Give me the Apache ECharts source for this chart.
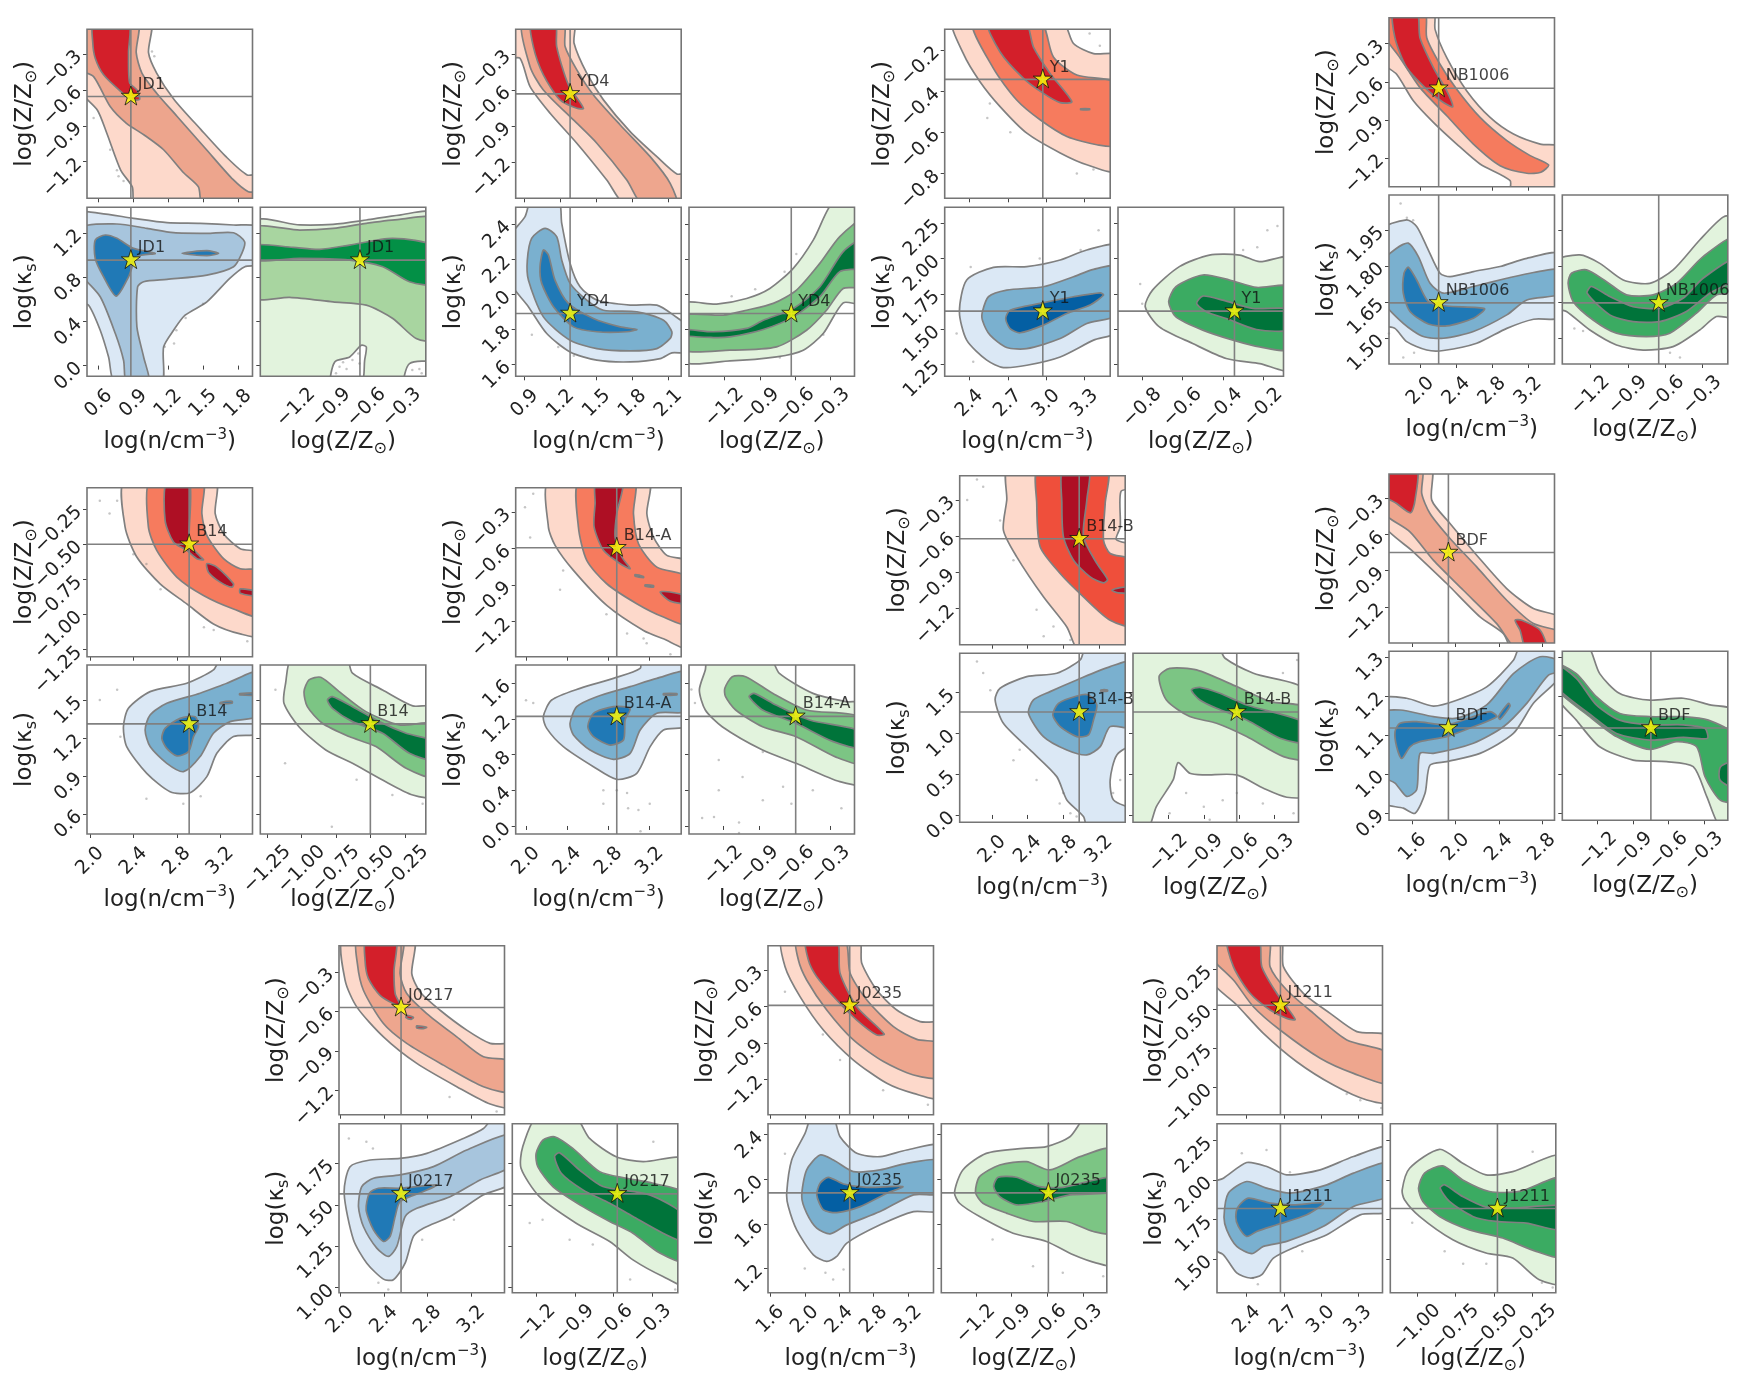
<!DOCTYPE html>
<html>
<head>
<meta charset="utf-8">
<title>corner plots</title>
<script src="https://cdn.jsdelivr.net/npm/echarts@6/dist/echarts.min.js"></script>
<style>
  html, body { margin: 0; background: #fff; }
  #main { width: 1747px; height: 1381px; }
</style>
</head>
<body>
<div id="main"></div>
<script>
// ---- JD1 ----
const JD1_N_LIM = [0.50, 1.926], JD1_Z_LIM = [-1.505, -0.095], JD1_K_LIM = [-0.097, 1.433];
const JD1_N_TICKS = [0.6, 0.9, 1.2, 1.5, 1.8], JD1_Z_TICKS = [-1.2, -0.9, -0.6, -0.3], JD1_K_TICKS = [0, 0.4, 0.8, 1.2];
const JD1_STAR = [0.878, -0.656, 0.955];
const JD1_NZ = [
  [[.50,-.09],[1.045,-.09],[1.03,-.29],[1.10,-.46],[1.25,-.68],[1.48,-.93],[1.70,-1.16],[1.88,-1.31],[1.93,-1.31],[1.93,-1.51],[.92,-1.51],[.89,-1.41],[.79,-1.27],[.67,-.96],[.59,-.77],[.50,-.59]],
  [[.50,-.09],[.936,-.09],[.924,-.29],[.973,-.46],[1.10,-.628],[1.275,-.82],[1.53,-1.10],[1.76,-1.35],[1.89,-1.45],[1.93,-1.46],[1.93,-1.51],[1.50,-1.51],[1.46,-1.41],[1.33,-1.29],[1.16,-1.10],[.99,-.975],[.84,-.88],[.70,-.74],[.557,-.49],[.50,-.42]],
  [[.557,-.09],[.858,-.09],[.858,-.29],[.867,-.54],[.93,-.60],[.953,-.68],[.887,-.68],[.787,-.61],[.643,-.475],[.571,-.336],[.55,-.21]]
];
const JD1_NK = [
  [[.50,1.378],[.614,1.378],[.901,1.333],[1.189,1.294],[1.476,1.288],[1.763,1.273],[1.926,1.251],[1.926,.919],[1.86,.895],[1.73,.789],[1.533,.577],[1.345,.456],[1.246,.32],[1.16,.169],[1.14,-.097],[.744,-.097],[.686,.078],[.614,.32],[.514,.547],[.50,.577]],
  [[.50,1.242],[.758,1.282],[1.016,1.242],[1.246,1.203],[1.533,1.197],[1.763,1.203],[1.858,1.121],[1.834,1.016],[1.763,.895],[1.533,.819],[1.189,.78],[.988,.759],[.936,.713],[.93,.35],[.988,.078],[1.036,-.097],[.844,-.097],[.815,.048],[.744,.29],[.614,.623],[.50,.864]],
  [[.571,1.136],[.657,1.182],[.758,1.152],[.901,1.061],[1.088,1.016],[.93,.985],[.858,.804],[.752,.629],[.643,.804],[.571,.97]],
  [[1.318,1.016],[1.533,1.04],[1.634,1.016],[1.533,.995]]
];
const JD1_ZK = [
  [[-1.506,1.297],[-1.169,1.273],[-.886,1.279],[-.602,1.318],[-.319,1.363],[-.095,1.372],[-.095,-.097],[-1.506,-.097]],
  [[-1.506,1.242],[-1.169,1.227],[-.886,1.242],[-.602,1.288],[-.319,1.324],[-.095,1.324],[-.095,.236],[-.177,.245],[-.376,.426],[-.602,.547],[-.886,.577],[-1.254,.617],[-1.506,.617]],
  [[-1.506,1.091],[-1.225,1.07],[-.999,1.052],[-.744,1.091],[-.376,1.152],[-.095,1.076],[-.095,.744],[-.234,.759],[-.461,.895],[-.744,.955],[-1.169,.97],[-1.506,.955]]
];
const JD1_ZK_HOLES = [
  [[-.90,-.097],[-.871,.033],[-.744,.078],[-.645,.184],[-.602,.169],[-.616,.048],[-.645,-.097]],
  [[-.276,-.097],[-.234,.018],[-.095,.024],[-.095,-.097]]
];
const JD1_NZ_DOTS = [[.557,-.836],[.70,-1.1],[.758,-1.27],[.772,-1.32],[.815,-1.36],[1.06,-.28],[1.08,-.32]];
const JD1_NK_DOTS = [[1.17,.17],[1.25,.2],[1.27,.32],[1.35,.43],[1.5,.56]];
const JD1_ZK_DOTS = [[-.83,-.01],[-.77,-.03],[-.72,.05],[-.67,.11],[-.86,-.07],[-.21,-.04],[-.15,-.03],[-.13,-.07],[-.8,.03],[-.66,.02]];

// ---- YD4 ----
const YD4_N_LIM = [0.825, 2.206], YD4_Z_LIM = [-1.503, -0.095], YD4_K_LIM = [1.533, 2.497];
const YD4_N_TICKS = [0.9, 1.2, 1.5, 1.8, 2.1], YD4_Z_TICKS = [-1.2, -0.9, -0.6, -0.3], YD4_K_TICKS = [1.6, 1.8, 2.0, 2.2, 2.4];
const YD4_STAR = [1.279, -0.633, 1.891];
const YD4_NZ = [
  [[.825,-.094],[1.307,-.094],[1.312,-.211],[1.418,-.461],[1.557,-.683],[1.78,-.947],[2.003,-1.156],[2.17,-1.3],[2.206,-1.3],[2.206,-1.503],[1.752,-1.503],[1.585,-1.35],[1.335,-1.044],[1.112,-.794],[.945,-.572],[.861,-.336],[.825,-.331]],
  [[.88,-.094],[1.223,-.094],[1.237,-.239],[1.335,-.433],[1.474,-.642],[1.697,-.892],[1.947,-1.156],[2.114,-1.378],[2.17,-1.503],[1.892,-1.503],[1.752,-1.35],[1.502,-1.044],[1.307,-.85],[1.056,-.6],[.945,-.406]],
  [[.953,-.094],[1.153,-.094],[1.167,-.239],[1.265,-.558],[1.39,-.753],[1.335,-.753],[1.195,-.683],[1.056,-.475],[.972,-.239]]
];
const YD4_NK = [
  [[.825,2.31],[.903,2.444],[.958,2.497],[1.181,2.497],[1.209,2.406],[1.279,2.177],[1.362,2.044],[1.502,1.968],[1.78,1.939],[2.003,1.939],[2.142,1.882],[2.206,1.806],[2.206,1.672],[2.128,1.667],[2.031,1.634],[1.78,1.615],[1.502,1.625],[1.279,1.672],[1.084,1.777],[.931,1.93],[.825,2.091]],
  [[.922,2.196],[.958,2.32],[1.07,2.377],[1.167,2.33],[1.209,2.196],[1.279,2.063],[1.418,1.968],[1.557,1.91],[1.836,1.901],[2.059,1.853],[2.128,1.787],[2.114,1.749],[2.003,1.691],[1.78,1.678],[1.502,1.691],[1.279,1.739],[1.056,1.872],[.931,2.082]],
  [[1.028,2.158],[1.056,2.253],[1.098,2.225],[1.153,2.082],[1.265,1.949],[1.474,1.863],[1.697,1.815],[1.836,1.80],[1.752,1.787],[1.502,1.787],[1.307,1.815],[1.14,1.93],[1.042,2.063]]
];
const YD4_ZK = [
  [[-1.5,1.945],[-1.268,1.945],[-1.013,1.977],[-.815,2.034],[-.616,2.149],[-.446,2.31],[-.262,2.497],[-.098,2.497],[-.098,1.952],[-.191,1.952],[-.361,1.777],[-.531,1.682],[-.758,1.644],[-1.155,1.621],[-1.5,1.621]],
  [[-1.5,1.876],[-1.211,1.882],[-1.013,1.91],[-.786,1.949],[-.588,2.025],[-.39,2.177],[-.22,2.33],[-.098,2.421],[-.098,2.048],[-.191,2.034],[-.333,1.91],[-.503,1.796],[-.758,1.701],[-1.155,1.682],[-1.5,1.686]],
  [[-1.5,1.80],[-1.296,1.787],[-1.013,1.806],[-.871,1.853],[-.616,1.92],[-.39,2.044],[-.191,2.244],[-.098,2.314],[-.098,2.158],[-.22,2.13],[-.39,1.987],[-.616,1.872],[-.871,1.80],[-1.155,1.758],[-1.296,1.754],[-1.5,1.768]]
];
const YD4_NK_DOTS = [[.96,1.77],[1.18,1.7],[1.31,1.65]];
const YD4_ZK_DOTS = [[-.59,2.23],[-.69,2.13],[-.94,2.03],[-1.14,1.99],[-.73,1.64],[-.36,1.77]];

// ---- Y1 ----
const Y1_N_LIM = [2.207, 3.501], Y1_Z_LIM = [-0.92, -0.10], Y1_K_LIM = [1.167, 2.363];
const Y1_N_TICKS = [2.4, 2.7, 3.0, 3.3], Y1_Z_TICKS = [-0.8, -0.6, -0.4, -0.2], Y1_K_TICKS = [1.25, 1.5, 1.75, 2.0, 2.25];
const Y1_STAR = [2.974, -0.343, 1.628];
const Y1_NZ = [
  [[2.275,-.102],[3.123,-.102],[3.214,-.169],[3.371,-.218],[3.501,-.229],[3.501,-.785],[3.318,-.757],[3.11,-.70],[2.849,-.604],[2.64,-.475],[2.483,-.354],[2.353,-.218]],
  [[2.426,-.102],[2.953,-.102],[3.057,-.234],[3.24,-.322],[3.501,-.366],[3.501,-.66],[3.397,-.66],[3.162,-.62],[2.953,-.539],[2.77,-.443],[2.588,-.29]],
  [[2.541,-.102],[2.836,-.102],[2.901,-.186],[3.031,-.314],[3.201,-.451],[3.11,-.456],[2.979,-.411],[2.823,-.338],[2.64,-.21]],
  [[3.27,-.486],[3.34,-.486],[3.34,-.49],[3.27,-.49]]
];
const Y1_NK = [
  [[2.322,1.624],[2.379,1.848],[2.588,1.938],[2.849,1.943],[3.11,1.99],[3.318,2.061],[3.501,2.089],[3.501,1.489],[3.371,1.423],[3.11,1.304],[2.849,1.245],[2.666,1.229],[2.536,1.281],[2.379,1.423]],
  [[2.502,1.624],[2.549,1.73],[2.692,1.777],[2.979,1.801],[3.214,1.872],[3.371,1.924],[3.501,1.943],[3.501,1.607],[3.318,1.541],[3.11,1.434],[2.849,1.363],[2.692,1.371],[2.562,1.458],[2.502,1.564]],
  [[2.684,1.576],[2.718,1.635],[2.953,1.683],[3.214,1.73],[3.423,1.758],[3.449,1.742],[3.344,1.671],[3.162,1.612],[2.979,1.529],[2.797,1.475],[2.718,1.505]]
];
const Y1_ZK = [
  [[-.785,1.659],[-.749,1.777],[-.616,1.943],[-.467,2.025],[-.317,2.025],[-.218,1.978],[-.10,2.002],[-.10,1.215],[-.218,1.257],[-.384,1.293],[-.55,1.399],[-.715,1.517]],
  [[-.669,1.694],[-.633,1.801],[-.50,1.884],[-.367,1.848],[-.234,1.796],[-.10,1.796],[-.10,1.363],[-.218,1.375],[-.35,1.423],[-.50,1.494],[-.633,1.588]],
  [[-.53,1.683],[-.50,1.735],[-.40,1.706],[-.251,1.647],[-.10,1.64],[-.10,1.498],[-.234,1.498],[-.384,1.576],[-.483,1.624]]
];
const Y1_NZ_DOTS = [[2.56,-.46],[2.54,-.53],[2.72,-.6],[3.37,-.78],[3.24,-.8],[3.34,-.12],[3.42,-.18]];
const Y1_NK_DOTS = [[2.41,1.94],[2.95,2.0],[3.41,2.2],[3.27,2.06],[2.3,1.47],[2.43,1.27]];
const Y1_ZK_DOTS = [[-.81,1.82],[-.8,1.68],[-.3,2.06],[-.18,2.2],[-.13,2.23],[-.23,2.08]];

// ---- NB1006 ----
const NB1006_N_LIM = [1.651, 3.494], NB1006_Z_LIM = [-1.427, -0.095], NB1006_K_LIM = [1.393, 2.095];
const NB1006_N_TICKS = [2.0, 2.4, 2.8, 3.2], NB1006_Z_TICKS = [-1.2, -0.9, -0.6, -0.3], NB1006_K_TICKS = [1.5, 1.65, 1.8, 1.95];
const NB1006_STAR = [2.204, -0.651, 1.647];
const NB1006_NZ = [
  [[1.651,-.104],[2.145,-.104],[2.164,-.187],[2.294,-.41],[2.517,-.672],[2.777,-.881],[3.037,-1.012],[3.335,-1.091],[3.494,-1.117],[3.494,-1.427],[3.007,-1.427],[3.0,-1.379],[2.665,-1.248],[2.405,-1.091],[2.145,-.92],[1.922,-.75],[1.736,-.541],[1.651,-.436]],
  [[1.651,-.104],[2.045,-.104],[2.071,-.253],[2.219,-.462],[2.405,-.659],[2.665,-.881],[2.963,-1.064],[3.223,-1.182],[3.428,-1.255],[3.342,-1.313],[3.186,-1.321],[2.888,-1.261],[2.591,-1.091],[2.294,-.868],[1.996,-.646],[1.773,-.41],[1.651,-.20]],
  [[1.699,-.104],[1.959,-.104],[1.996,-.253],[2.145,-.488],[2.294,-.672],[2.361,-.797],[2.257,-.763],[2.089,-.672],[1.848,-.488],[1.717,-.253]]
];
const NB1006_NK = [
  [[1.651,1.947],[1.848,1.992],[1.959,1.964],[2.071,1.881],[2.219,1.77],[2.331,1.756],[2.591,1.777],[2.888,1.798],[3.186,1.832],[3.494,1.85],[3.494,1.59],[3.26,1.579],[2.963,1.541],[2.628,1.479],[2.257,1.449],[2.071,1.451],[1.848,1.486],[1.717,1.541],[1.651,1.559]],
  [[1.651,1.811],[1.736,1.874],[1.866,1.895],[1.978,1.839],[2.108,1.728],[2.257,1.687],[2.591,1.715],[2.963,1.749],[3.26,1.773],[3.494,1.784],[3.494,1.687],[3.186,1.659],[2.963,1.597],[2.591,1.528],[2.257,1.50],[2.033,1.507],[1.81,1.562],[1.651,1.666]],
  [[1.81,1.687],[1.818,1.77],[1.866,1.795],[1.959,1.742],[2.089,1.652],[2.294,1.634],[2.714,1.623],[2.591,1.583],[2.294,1.551],[2.089,1.559],[1.885,1.611]]
];
const NB1006_ZK = [
  [[-1.428,1.818],[-1.286,1.846],[-1.125,1.811],[-.937,1.742],[-.723,1.728],[-.535,1.784],[-.321,1.908],[-.133,2.003],[-.095,2.003],[-.095,1.59],[-.187,1.59],[-.321,1.534],[-.535,1.465],[-.776,1.451],[-.991,1.472],[-1.205,1.534],[-1.393,1.611],[-1.428,1.631]],
  [[-1.38,1.728],[-1.353,1.77],[-1.232,1.784],[-1.071,1.735],[-.91,1.68],[-.696,1.68],[-.508,1.728],[-.294,1.839],[-.095,1.922],[-.095,1.694],[-.187,1.68],[-.347,1.604],[-.562,1.521],[-.75,1.507],[-.991,1.521],[-1.179,1.576],[-1.339,1.652]],
  [[-1.227,1.687],[-1.192,1.715],[-1.045,1.673],[-.857,1.631],[-.642,1.625],[-.455,1.666],[-.294,1.749],[-.095,1.832],[-.095,1.749],[-.24,1.687],[-.428,1.611],[-.642,1.569],[-.857,1.569],[-1.045,1.597]]
];
const NB1006_NK_DOTS = [[1.78,2.06],[1.85,2.0],[1.92,1.99],[1.93,1.44],[1.81,1.42],[1.65,1.52]];
const NB1006_ZK_DOTS = [[-1.33,1.54],[-1.26,1.53],[-.56,1.44],[-.48,1.42],[-.09,2.09]];

// ---- B14 ----
const B14_N_LIM = [1.972, 3.498], B14_Z_LIM = [-1.30, -0.097], B14_K_LIM = [0.442, 1.776];
const B14_N_TICKS = [2.0, 2.4, 2.8, 3.2], B14_Z_TICKS = [-1.25, -1.0, -0.75, -0.5, -0.25], B14_K_TICKS = [0.6, 0.9, 1.2, 1.5];
const B14_STAR = [2.914, -0.50, 1.311];
const B14_NZ = [
  [[2.323,-.098],[3.154,-.098],[3.154,-.281],[3.231,-.424],[3.385,-.531],[3.498,-.567],[3.498,-1.15],[3.385,-1.138],[3.138,-1.067],[2.892,-.924],[2.646,-.781],[2.431,-.59],[2.323,-.376]],
  [[2.554,-.098],[3.037,-.098],[3.031,-.281],[3.077,-.436],[3.231,-.602],[3.385,-.674],[3.498,-.69],[3.498,-1.014],[3.323,-.96],[3.046,-.864],[2.80,-.733],[2.615,-.543],[2.538,-.376]],
  [[2.708,-.098],[2.914,-.098],[2.914,-.448],[2.938,-.519],[3.015,-.586],[3.046,-.61],[2.985,-.602],[2.892,-.543],[2.769,-.483],[2.692,-.329]],
  [[3.077,-.638],[3.169,-.662],[3.323,-.781],[3.308,-.805],[3.20,-.769],[3.092,-.698]],
  [[3.385,-.817],[3.498,-.84],[3.498,-.871],[3.385,-.848]]
];
const B14_NK = [
  [[2.308,1.289],[2.354,1.434],[2.554,1.566],[2.892,1.632],[3.138,1.737],[3.215,1.776],[3.498,1.776],[3.498,1.245],[3.323,1.211],[3.169,1.079],[3.077,.895],[2.923,.768],[2.738,.776],[2.523,.921],[2.338,1.132]],
  [[2.508,1.263],[2.554,1.382],[2.708,1.474],[3.015,1.553],[3.262,1.632],[3.498,1.724],[3.498,1.382],[3.292,1.329],[3.138,1.237],[3.015,1.053],[2.862,.934],[2.708,1.0],[2.554,1.132]],
  [[2.662,1.197],[2.692,1.276],[2.831,1.355],[2.969,1.368],[3.0,1.289],[2.954,1.211],[2.908,1.092],[2.80,1.058],[2.708,1.118]],
  [[3.20,1.48],[3.31,1.49],[3.31,1.475],[3.20,1.47]],
  [[3.38,1.55],[3.498,1.555],[3.498,1.54],[3.38,1.54]]
];
const B14_ZK = [
  [[-1.068,1.776],[-.678,1.776],[-.63,1.711],[-.411,1.579],[-.192,1.453],[-.097,1.442],[-.097,.742],[-.192,.75],[-.411,.868],[-.63,1.0],[-.824,1.105],[-1.019,1.289],[-1.128,1.474],[-1.116,1.632]],
  [[-.982,1.566],[-.946,1.658],[-.861,1.679],[-.727,1.566],[-.532,1.408],[-.289,1.303],[-.097,1.303],[-.097,.895],[-.24,.961],[-.459,1.132],[-.654,1.211],[-.849,1.316],[-.958,1.447]],
  [[-.812,1.50],[-.776,1.526],[-.63,1.447],[-.435,1.329],[-.24,1.237],[-.097,1.171],[-.097,1.026],[-.216,1.079],[-.411,1.237],[-.63,1.329],[-.776,1.434]]
];
const B14_NZ_DOTS = [[2.09,-.19],[2.25,-.19],[2.18,-.28],[2.4,-.57],[2.52,-.64],[2.65,-.82],[3.05,-1.09],[3.45,-1.19],[3.14,-1.11]];
const B14_NK_DOTS = [[2.25,1.58],[2.09,1.5],[2.86,.68],[2.52,.72],[3.02,.74],[2.28,1.21]];
const B14_ZK_DOTS = [[-1.19,1.58],[-1.12,1.0],[-.6,.87],[-.34,.75],[-.12,.68],[-.78,.5]];

// ---- B14-A ----
const B14A_N_LIM = [1.90, 3.505], B14A_Z_LIM = [-1.49, -0.10], B14A_K_LIM = [-0.09, 1.806];
const B14A_N_TICKS = [2.0, 2.4, 2.8, 3.2], B14A_Z_TICKS = [-1.2, -0.9, -0.6, -0.3], B14A_K_TICKS = [0, 0.4, 0.8, 1.2, 1.6];
const B14A_STAR = [2.88, -0.594, 1.23];
const B14A_NZ = [
  [[2.227,-.102],[3.188,-.102],[3.172,-.314],[3.236,-.506],[3.366,-.657],[3.505,-.712],[3.505,-1.417],[3.333,-1.343],[3.139,-1.274],[2.783,-1.068],[2.46,-.78],[2.282,-.574],[2.217,-.423]],
  [[2.515,-.102],[3.049,-.102],[3.042,-.314],[3.091,-.561],[3.269,-.753],[3.505,-.841],[3.505,-1.225],[3.333,-1.164],[3.074,-1.054],[2.783,-.89],[2.589,-.698],[2.508,-.423]],
  [[2.68,-.102],[2.939,-.102],[2.88,-.314],[2.864,-.506],[2.929,-.67],[3.01,-.766],[2.913,-.725],[2.751,-.615],[2.66,-.423],[2.67,-.231]],
  [[3.301,-.958],[3.398,-.958],[3.505,-.999],[3.505,-1.054],[3.398,-1.033]],
  [[3.058,-.815],[3.139,-.83],[3.139,-.84],[3.058,-.827]],
  [[3.155,-.90],[3.236,-.905],[3.236,-.917],[3.155,-.91]]
];
const B14A_NK = [
  [[2.168,1.226],[2.249,1.413],[2.524,1.544],[2.848,1.656],[3.107,1.768],[3.123,1.806],[3.505,1.806],[3.505,1.133],[3.333,1.077],[3.204,.89],[3.074,.591],[2.88,.523],[2.654,.665],[2.362,.89],[2.201,1.095]],
  [[2.427,1.151],[2.492,1.338],[2.686,1.45],[3.01,1.563],[3.269,1.656],[3.505,1.731],[3.505,1.293],[3.269,1.264],[3.107,1.077],[3.01,.815],[2.848,.748],[2.621,.852],[2.46,1.021]],
  [[2.599,1.114],[2.654,1.264],[2.848,1.338],[3.01,1.32],[2.961,1.189],[2.945,.964],[2.816,.908],[2.654,1.002]],
  [[3.333,1.485],[3.463,1.485],[3.463,1.47],[3.333,1.47]]
];
const B14A_ZK = [
  [[-1.33,1.806],[-.816,1.806],[-.731,1.712],[-.449,1.488],[-.166,1.394],[-.098,1.376],[-.098,.479],[-.223,.497],[-.59,.703],[-.872,.852],[-1.211,1.114],[-1.353,1.301],[-1.403,1.525],[-1.353,1.75]],
  [[-1.189,1.544],[-1.127,1.675],[-1.014,1.675],[-.788,1.488],[-.505,1.301],[-.098,1.207],[-.098,.703],[-.251,.77],[-.59,1.002],[-.872,1.114],[-1.098,1.301],[-1.183,1.45]],
  [[-.985,1.45],[-.943,1.488],[-.759,1.357],[-.477,1.189],[-.098,1.058],[-.098,.871],[-.279,.946],[-.59,1.151],[-.872,1.301]]
];
const B14A_NZ_DOTS = [[2.07,-.15],[1.99,-.26],[2.04,-.51],[2.36,-.78],[2.33,-.94],[2.78,-1.14],[2.98,-1.3],[3.17,-1.38],[3.4,-1.47],[3.14,-1.34]];
const B14A_NK_DOTS = [[2.99,.2],[3.09,.18],[2.75,.25],[3.11,-.06],[2.0,1.41],[2.07,1.38],[2.98,.37],[2.88,.4],[2.75,.4],[3.2,.25]];
const B14A_ZK_DOTS = [[-1.07,.04],[-1.38,.09],[-1.28,.10],[-1.24,.40],[-1.04,.55],[-.87,.83],[-.63,.25],[-.21,.2],[-.45,.4],[-.87,.29],[-1.44,1.38],[-1.47,1.53],[-1.07,-.08],[-.7,.44],[-1.24,.74]];

// ---- B14-B ----
const B14B_N_LIM = [1.636, 3.496], B14B_Z_LIM = [-1.50, -0.098], B14B_K_LIM = [-0.09, 1.982];
const B14B_N_TICKS = [2.0, 2.4, 2.8, 3.2], B14B_Z_TICKS = [-1.2, -0.9, -0.6, -0.3], B14B_K_TICKS = [0, 0.5, 1.0, 1.5];
const B14B_STAR = [2.979, -0.621, 1.263];
const B14B_NZ = [
  [[2.184,-.098],[3.496,-.098],[3.496,-1.50],[2.99,-1.50],[2.84,-1.353],[2.577,-1.103],[2.277,-.771],[2.127,-.549],[2.165,-.30]],
  [[2.521,-.098],[3.29,-.098],[3.271,-.328],[3.252,-.632],[3.327,-.743],[3.496,-.804],[3.496,-1.339],[3.327,-1.297],[3.027,-1.103],[2.765,-.909],[2.54,-.688],[2.502,-.328]],
  [[2.795,-.098],[3.087,-.098],[3.065,-.30],[3.027,-.605],[3.177,-.826],[3.297,-.959],[3.252,-.987],[3.102,-.937],[2.915,-.799],[2.802,-.605],[2.784,-.328]],
  [[3.346,-1.048],[3.44,-1.026],[3.496,-1.026],[3.496,-1.067],[3.421,-1.07]]
];
const B14B_NZ_HOLES = [[[3.496,-.222],[3.447,-.231],[3.44,-.522],[3.395,-.627],[3.496,-.646]]];
const B14B_NK = [
  [[2.034,1.41],[2.09,1.553],[2.39,1.696],[2.727,1.737],[2.99,1.90],[3.065,1.982],[3.496,1.982],[3.496,-.09],[3.084,-.09],[3.027,-.02],[2.84,.184],[2.727,.47],[2.427,.797],[2.127,1.124]],
  [[2.409,1.247],[2.465,1.41],[2.652,1.512],[2.952,1.655],[3.327,1.819],[3.496,1.872],[3.496,1.083],[3.327,1.083],[3.215,.838],[3.065,.736],[2.84,.797],[2.577,.961]],
  [[2.682,1.226],[2.746,1.369],[2.952,1.459],[3.084,1.471],[3.177,1.349],[3.14,1.165],[3.084,.981],[2.952,.961],[2.765,1.083]],
  [[3.222,1.532],[3.297,1.532],[3.297,1.518],[3.222,1.518]]
];
const B14B_NK_HOLES = [[[3.496,.838],[3.402,.736],[3.327,.429],[3.365,.184],[3.496,.11]]];
const B14B_ZK = [
  [[-1.5,1.982],[-.792,1.982],[-.72,1.921],[-.48,1.737],[-.098,1.512],[-.098,.245],[-.197,.217],[-.395,.327],[-.622,.491],[-.905,.491],[-1.019,.511],[-1.118,.642],[-1.16,.429],[-1.302,.102],[-1.381,-.09],[-1.5,-.09]],
  [[-1.279,1.696],[-1.189,1.798],[-.962,1.778],[-.622,1.574],[-.339,1.39],[-.098,1.308],[-.098,.695],[-.225,.715],[-.537,.961],[-.792,1.124],[-1.019,1.206],[-1.217,1.41]],
  [[-1.005,1.533],[-.934,1.565],[-.764,1.492],[-.537,1.349],[-.098,1.124],[-.098,.887],[-.254,.94],[-.537,1.165],[-.792,1.308],[-.934,1.41]]
];
const B14B_NZ_DOTS = [[1.83,-.13],[1.9,-.19],[1.72,-.3],[2.09,-.47],[2.24,-.8],[2.5,-1.21],[2.69,-1.35],[2.88,-1.46],[2.58,-1.43]];
const B14B_NK_DOTS = [[1.9,1.74],[1.83,1.88],[1.98,1.53],[2.31,.8],[2.5,.43],[2.8,.27],[2.88,.02],[2.76,.14],[2.24,.67],[2.95,-.02],[3.36,.27],[3.44,.43]];
const B14B_ZK_DOTS = [[-1.19,.02],[-1.05,.27],[-.85,-.06],[-.62,.27],[-.4,.14],[-.14,.02],[-.23,1.74],[-.11,1.9],[-.9,.1],[-.74,.18]];

// ---- BDF ----
const BDF_N_LIM = [1.38, 2.918], BDF_Z_LIM = [-1.50, -0.097], BDF_K_LIM = [0.882, 1.314];
const BDF_N_TICKS = [1.6, 2.0, 2.4, 2.8], BDF_Z_TICKS = [-1.2, -0.9, -0.6, -0.3], BDF_K_TICKS = [0.9, 1.0, 1.1, 1.2, 1.3];
const BDF_STAR = [1.932, -0.749, 1.118];
const BDF_NZ = [
  [[1.38,-.098],[1.771,-.098],[1.777,-.314],[1.947,-.508],[2.195,-.771],[2.474,-1.048],[2.722,-1.214],[2.918,-1.297],[2.918,-1.5],[2.536,-1.5],[2.443,-1.422],[2.226,-1.283],[1.916,-1.006],[1.606,-.743],[1.38,-.494]],
  [[1.38,-.098],[1.684,-.098],[1.684,-.258],[1.761,-.425],[1.947,-.632],[2.195,-.868],[2.474,-1.145],[2.722,-1.339],[2.918,-1.416],[2.918,-1.5],[2.583,-1.5],[2.381,-1.339],[2.071,-1.062],[1.792,-.812],[1.575,-.577],[1.38,-.397]],
  [[1.38,-.098],[1.637,-.098],[1.622,-.314],[1.581,-.419],[1.451,-.342],[1.38,-.258]],
  [[2.552,-1.311],[2.614,-1.311],[2.785,-1.394],[2.847,-1.5],[2.66,-1.5],[2.598,-1.394]]
];
const BDF_NK = [
  [[1.38,1.191],[1.544,1.194],[1.792,1.174],[2.009,1.189],[2.288,1.223],[2.536,1.291],[2.614,1.314],[2.918,1.314],[2.918,1.257],[2.722,1.181],[2.536,1.104],[2.226,1.053],[1.916,1.032],[1.761,1.023],[1.715,.951],[1.622,.90],[1.513,.913],[1.38,.93]],
  [[1.38,1.155],[1.482,1.164],[1.792,1.147],[2.009,1.143],[2.288,1.177],[2.536,1.257],[2.784,1.30],[2.918,1.287],[2.918,1.265],[2.862,1.253],[2.66,1.181],[2.443,1.121],[2.164,1.079],[1.792,1.053],[1.668,1.053],[1.637,.96],[1.544,.943],[1.436,.977],[1.38,.998]],
  [[1.436,1.109],[1.482,1.13],[1.637,1.134],[1.916,1.126],[2.164,1.147],[2.319,1.16],[2.381,1.147],[2.164,1.121],[1.916,1.096],[1.668,1.083],[1.575,1.07],[1.498,1.04],[1.451,1.07]],
  [[2.397,1.147],[2.49,1.181],[2.505,1.174],[2.412,1.14]]
];
const BDF_ZK = [
  [[-1.503,1.314],[-1.296,1.314],[-1.183,1.257],[-1.013,1.206],[-.758,1.189],[-.475,1.194],[-.248,1.177],[-.095,1.16],[-.095,.882],[-.158,.882],[-.276,.943],[-.39,1.019],[-.616,1.032],[-.90,1.036],[-1.183,1.07],[-1.381,1.138],[-1.503,1.206]],
  [[-1.503,1.283],[-1.381,1.257],[-1.211,1.198],[-1.013,1.155],[-.758,1.147],[-.475,1.147],[-.262,1.138],[-.095,1.096],[-.095,.93],[-.163,.934],[-.291,.994],[-.361,1.07],[-.531,1.083],[-.758,1.063],[-1.041,1.096],[-1.268,1.147],[-1.503,1.223]],
  [[-1.503,1.283],[-1.381,1.245],[-1.211,1.177],[-1.013,1.138],[-.758,1.126],[-.475,1.126],[-.291,1.117],[-.271,1.091],[-.475,1.094],[-.758,1.087],[-1.041,1.104],[-1.24,1.147],[-1.503,1.228]],
  [[-.095,1.032],[-.158,1.019],[-.163,.985],[-.095,.964]]
];

// ---- J0217 ----
const J0217_N_LIM = [1.99, 3.502], J0217_Z_LIM = [-1.385, -0.10], J0217_K_LIM = [0.97, 1.989];
const J0217_N_TICKS = [2.0, 2.4, 2.8, 3.2], J0217_Z_TICKS = [-1.2, -0.9, -0.6, -0.3], J0217_K_TICKS = [1.0, 1.25, 1.5, 1.75];
const J0217_STAR = [2.557, -0.57, 1.566];
const J0217_NZ = [
  [[2.03,-.103],[2.67,-.103],[2.655,-.313],[2.731,-.452],[2.914,-.591],[3.157,-.742],[3.371,-.843],[3.502,-.861],[3.502,-1.324],[3.371,-1.304],[3.066,-1.172],[2.701,-.995],[2.396,-.793],[2.152,-.565],[2.046,-.363]],
  [[2.158,-.103],[2.57,-.103],[2.548,-.313],[2.609,-.464],[2.792,-.616],[3.066,-.793],[3.31,-.945],[3.502,-.982],[3.502,-1.21],[3.31,-1.172],[2.944,-1.008],[2.609,-.843],[2.396,-.692],[2.213,-.439],[2.158,-.237]],
  [[2.238,-.103],[2.509,-.103],[2.493,-.287],[2.503,-.464],[2.548,-.553],[2.487,-.54],[2.365,-.477],[2.259,-.351],[2.228,-.212]],
  [[2.61,-.63],[2.67,-.645],[2.65,-.66],[2.60,-.645]],
  [[2.70,-.71],[2.79,-.72],[2.76,-.73],[2.70,-.725]]
];
const J0217_NK = [
  [[2.037,1.57],[2.091,1.73],[2.274,1.77],[2.548,1.78],[2.792,1.81],[3.127,1.90],[3.31,1.96],[3.416,1.989],[3.502,1.989],[3.502,1.64],[3.31,1.56],[3.005,1.429],[2.761,1.359],[2.67,1.309],[2.594,1.148],[2.487,1.048],[2.396,1.052],[2.244,1.148],[2.122,1.289]],
  [[2.168,1.489],[2.198,1.61],[2.305,1.66],[2.548,1.68],[2.853,1.73],[3.157,1.83],[3.502,1.926],[3.502,1.74],[3.279,1.65],[3.005,1.549],[2.701,1.479],[2.594,1.429],[2.518,1.249],[2.442,1.189],[2.335,1.239],[2.213,1.369]],
  [[2.238,1.469],[2.268,1.57],[2.35,1.60],[2.548,1.60],[2.883,1.62],[2.761,1.58],[2.548,1.519],[2.503,1.429],[2.457,1.309],[2.396,1.279],[2.305,1.349]]
];
const J0217_ZK = [
  [[-1.19,1.989],[-.902,1.989],[-.785,1.90],[-.578,1.79],[-.37,1.76],[-.098,1.77],[-.098,1.018],[-.215,1.068],[-.448,1.168],[-.629,1.279],[-.889,1.389],[-1.174,1.549],[-1.317,1.72],[-1.304,1.85]],
  [[-1.2,1.81],[-1.148,1.89],[-1.057,1.91],[-.915,1.84],[-.707,1.70],[-.50,1.66],[-.292,1.63],[-.098,1.56],[-.098,1.158],[-.24,1.209],[-.448,1.329],[-.629,1.399],[-.837,1.489],[-1.07,1.61],[-1.187,1.73]],
  [[-1.057,1.79],[-1.018,1.814],[-.863,1.71],[-.681,1.61],[-.318,1.56],[-.098,1.429],[-.098,1.279],[-.215,1.329],[-.448,1.429],[-.629,1.509],[-.837,1.59],[-1.005,1.69]]
];
const J0217_NZ_DOTS = [[3.0,-1.25],[3.43,-1.36]];
const J0217_NK_DOTS = [[2.08,1.9],[2.24,1.88],[2.3,1.84],[2.35,1.03],[2.44,.99],[3.04,1.41],[2.75,1.29]];
const J0217_ZK_DOTS = [[-1.25,1.39],[-1.15,1.41],[-.94,1.29],[-.76,1.26],[-.47,1.05],[-.29,1.88],[-.12,.99]];

// ---- J0235 ----
const J0235_N_LIM = [1.573, 3.495], J0235_Z_LIM = [-1.491, -0.10], J0235_K_LIM = [0.982, 2.499];
const J0235_N_TICKS = [1.6, 2.0, 2.4, 2.8, 3.2], J0235_Z_TICKS = [-1.2, -0.9, -0.6, -0.3], J0235_K_TICKS = [1.2, 1.6, 2.0, 2.4];
const J0235_STAR = [2.522, -0.591, 1.878];
const J0235_NZ = [
  [[1.743,-.10],[2.623,-.10],[2.662,-.245],[2.836,-.465],[3.069,-.629],[3.34,-.725],[3.495,-.747],[3.495,-1.351],[3.263,-1.315],[2.953,-1.233],[2.565,-1.041],[2.216,-.794],[1.945,-.519],[1.771,-.273]],
  [[1.906,-.10],[2.457,-.10],[2.527,-.327],[2.721,-.547],[3.03,-.766],[3.302,-.871],[3.495,-.909],[3.495,-1.183],[3.263,-1.164],[2.914,-1.054],[2.565,-.876],[2.255,-.629],[2.022,-.382],[1.926,-.218]],
  [[2.015,-.10],[2.371,-.10],[2.41,-.327],[2.604,-.602],[2.922,-.827],[2.836,-.835],[2.604,-.712],[2.371,-.547],[2.139,-.355],[2.042,-.218]]
];
const J0235_NK = [
  [[1.79,1.875],[1.848,2.173],[2.003,2.412],[2.088,2.499],[2.321,2.499],[2.41,2.382],[2.604,2.233],[2.875,2.203],[3.185,2.263],[3.495,2.299],[3.495,1.725],[3.263,1.71],[2.875,1.591],[2.488,1.427],[2.371,1.307],[2.255,1.263],[2.10,1.322],[1.906,1.546],[1.809,1.755]],
  [[1.965,1.845],[2.022,2.084],[2.178,2.218],[2.333,2.173],[2.565,2.069],[2.875,2.084],[3.185,2.143],[3.495,2.167],[3.495,1.875],[3.263,1.86],[2.875,1.71],[2.488,1.591],[2.294,1.51],[2.139,1.561],[2.022,1.696]],
  [[2.139,1.86],[2.178,1.964],[2.274,2.018],[2.449,1.958],[2.72,1.928],[3.139,1.934],[2.953,1.875],[2.643,1.755],[2.371,1.701],[2.216,1.725]]
];
const J0235_ZK = [
  [[-1.38,1.881],[-1.31,2.084],[-1.113,2.233],[-.803,2.278],[-.607,2.293],[-.41,2.382],[-.269,2.499],[-.10,2.499],[-.10,1.233],[-.185,1.248],[-.382,1.322],[-.607,1.442],[-.888,1.516],[-1.169,1.666],[-1.338,1.785]],
  [[-1.203,1.881],[-1.169,2.024],[-1.0,2.128],[-.775,2.158],[-.579,2.084],[-.325,2.203],[-.10,2.269],[-.10,1.522],[-.213,1.531],[-.438,1.621],[-.719,1.621],[-.944,1.696],[-1.141,1.785]],
  [[-1.051,1.934],[-1.014,2.018],[-.86,2.018],[-.663,1.934],[-.466,1.928],[-.10,2.024],[-.10,1.89],[-.41,1.86],[-.635,1.80],[-.86,1.77],[-1.0,1.845]]
];
const J0235_NZ_DOTS = [[1.77,-.48],[2.21,-.83],[2.41,-1.04],[2.91,-1.29],[3.43,-1.41]];
const J0235_NK_DOTS = [[2.24,1.16],[2.33,1.1],[2.45,1.19],[1.77,2.23],[2.0,1.2]];
const J0235_ZK_DOTS = [[-.13,1.13],[-.47,1.16],[-.72,1.22],[-1.06,1.46]];

// ---- J1211 ----
const J1211_N_LIM = [2.159, 3.50], J1211_Z_LIM = [-1.172, -0.10], J1211_K_LIM = [1.287, 2.357];
const J1211_N_TICKS = [2.4, 2.7, 3.0, 3.3], J1211_Z_TICKS = [-1.0, -0.75, -0.5, -0.25], J1211_K_TICKS = [1.5, 1.75, 2.0, 2.25];
const J1211_STAR = [2.673, -0.478, 1.82];
const J1211_NZ = [
  [[2.159,-.10],[2.67,-.10],[2.697,-.233],[2.859,-.402],[3.076,-.529],[3.292,-.645],[3.5,-.677],[3.5,-1.089],[3.373,-1.079],[3.103,-.984],[2.805,-.836],[2.535,-.656],[2.319,-.476],[2.159,-.307]],
  [[2.159,-.10],[2.576,-.10],[2.589,-.233],[2.724,-.381],[2.941,-.529],[3.211,-.698],[3.5,-.787],[3.5,-.977],[3.265,-.91],[2.995,-.814],[2.67,-.635],[2.454,-.487],[2.292,-.318],[2.159,-.159]],
  [[2.243,-.10],[2.495,-.10],[2.522,-.233],[2.643,-.402],[2.792,-.567],[2.724,-.561],[2.589,-.508],[2.427,-.402],[2.292,-.233]]
];
const J1211_NK = [
  [[2.159,1.97],[2.211,2.012],[2.40,2.111],[2.562,2.086],[2.724,2.033],[2.995,2.065],[3.265,2.149],[3.5,2.208],[3.5,1.808],[3.319,1.78],[3.049,1.654],[2.805,1.58],[2.616,1.506],[2.522,1.401],[2.427,1.38],[2.319,1.412],[2.211,1.527],[2.159,1.58]],
  [[2.216,1.77],[2.251,1.917],[2.40,1.991],[2.562,1.949],[2.751,1.917],[3.049,1.97],[3.265,2.044],[3.5,2.111],[3.5,1.907],[3.265,1.833],[3.022,1.707],[2.724,1.612],[2.535,1.58],[2.441,1.534],[2.319,1.58],[2.238,1.685]],
  [[2.311,1.77],[2.332,1.833],[2.414,1.886],[2.589,1.854],[2.778,1.843],[3.022,1.854],[2.886,1.78],[2.643,1.717],[2.481,1.675],[2.40,1.643],[2.332,1.707]]
];
const J1211_ZK = [
  [[-1.095,1.938],[-1.047,2.075],[-.853,2.195],[-.703,2.107],[-.552,2.033],[-.379,2.054],[-.101,2.149],[-.101,1.348],[-.207,1.369],[-.379,1.506],[-.552,1.538],[-.767,1.622],[-.983,1.77],[-1.08,1.875]],
  [[-.989,1.949],[-.95,2.044],[-.832,2.09],[-.703,2.001],[-.53,1.928],[-.336,1.928],[-.101,2.012],[-.101,1.517],[-.228,1.549],[-.444,1.633],[-.659,1.685],[-.853,1.77],[-.961,1.865]],
  [[-.849,1.949],[-.821,1.97],[-.703,1.896],[-.552,1.829],[-.379,1.822],[-.101,1.833],[-.101,1.685],[-.293,1.728],[-.487,1.738],[-.638,1.77],[-.789,1.865]]
];
const J1211_NZ_DOTS = [[3.21,-1.04],[3.32,-1.08],[3.49,-1.13]];
const J1211_NK_DOTS = [[2.36,2.17],[2.56,2.19],[2.75,2.05],[2.85,1.55],[2.49,1.34],[2.45,1.38]];
const J1211_ZK_DOTS = [[-1.03,1.73],[-.82,1.55],[-.7,1.47],[-.55,1.47],[-.25,2.18],[-.12,1.32],[-.19,1.35]];

// colours of the filled levels, [light, mid, inner] for red, blue, green
const RED_LIGHT = '#fdd9cb', BLUE_LIGHT = '#dbe8f5', GREEN_LIGHT = '#e2f3dd';

var groups = [
  {name:'JD1', left:87, top1:29.3, top2:207.3, n:JD1_N_LIM, z:JD1_Z_LIM, k:JD1_K_LIM, nt:JD1_N_TICKS, zt:JD1_Z_TICKS, kt:JD1_K_TICKS, star:JD1_STAR, nz:JD1_NZ, nk:JD1_NK, zk:JD1_ZK, zkH:JD1_ZK_HOLES, nzD:JD1_NZ_DOTS, nkD:JD1_NK_DOTS, zkD:JD1_ZK_DOTS, red:['#eda58d','#d31f2a'], blue:['#a7c5dd','#2079b6'], green:['#a8d5a0','#039046']},
  {name:'YD4', left:515.7, top1:29.3, top2:207.3, n:YD4_N_LIM, z:YD4_Z_LIM, k:YD4_K_LIM, nt:YD4_N_TICKS, zt:YD4_Z_TICKS, kt:YD4_K_TICKS, star:YD4_STAR, nz:YD4_NZ, nk:YD4_NK, zk:YD4_ZK, nkD:YD4_NK_DOTS, zkD:YD4_ZK_DOTS, red:['#eea68e','#d31f2a'], blue:['#7ab0cf','#2079b6'], green:['#7cc584','#00743a']},
  {name:'Y1', left:944.7, top1:29.3, top2:207.3, n:Y1_N_LIM, z:Y1_Z_LIM, k:Y1_K_LIM, nt:Y1_N_TICKS, zt:Y1_Z_TICKS, kt:Y1_K_TICKS, star:Y1_STAR, nz:Y1_NZ, nk:Y1_NK, zk:Y1_ZK, nzD:Y1_NZ_DOTS, nkD:Y1_NK_DOTS, zkD:Y1_ZK_DOTS, red:['#f67b5e','#d31f2a'], blue:['#7ab0cf','#045fa3'], green:['#3bab62','#00743a']},
  {name:'NB1006', left:1389, top1:17.7, top2:195, n:NB1006_N_LIM, z:NB1006_Z_LIM, k:NB1006_K_LIM, nt:NB1006_N_TICKS, zt:NB1006_Z_TICKS, kt:NB1006_K_TICKS, star:NB1006_STAR, nz:NB1006_NZ, nk:NB1006_NK, zk:NB1006_ZK, nkD:NB1006_NK_DOTS, zkD:NB1006_ZK_DOTS, red:['#f57b5e','#d31f2a'], blue:['#7ab0cf','#2079b6'], green:['#3bab62','#00743a']},
  {name:'B14', left:87, top1:487.7, top2:665, n:B14_N_LIM, z:B14_Z_LIM, k:B14_K_LIM, nt:B14_N_TICKS, zt:B14_Z_TICKS, kt:B14_K_TICKS, star:B14_STAR, nz:B14_NZ, nk:B14_NK, zk:B14_ZK, nzD:B14_NZ_DOTS, nkD:B14_NK_DOTS, zkD:B14_ZK_DOTS, red:['#f67b5e','#ae0f24'], blue:['#7ab0cf','#2079b6'], green:['#7cc584','#00743a']},
  {name:'B14-A', left:515.7, top1:487.7, top2:665, n:B14A_N_LIM, z:B14A_Z_LIM, k:B14A_K_LIM, nt:B14A_N_TICKS, zt:B14A_Z_TICKS, kt:B14A_K_TICKS, star:B14A_STAR, nz:B14A_NZ, nk:B14A_NK, zk:B14A_ZK, nzD:B14A_NZ_DOTS, nkD:B14A_NK_DOTS, zkD:B14A_ZK_DOTS, red:['#f67b5e','#ae0f24'], blue:['#7ab0cf','#2079b6'], green:['#7cc584','#00743a']},
  {name:'B14-B', left:959.7, top1:475.7, top2:653.3, n:B14B_N_LIM, z:B14B_Z_LIM, k:B14B_K_LIM, nt:B14B_N_TICKS, zt:B14B_Z_TICKS, kt:B14B_K_TICKS, star:B14B_STAR, nz:B14B_NZ, nk:B14B_NK, zk:B14B_ZK, nzH:B14B_NZ_HOLES, nkH:B14B_NK_HOLES, nzD:B14B_NZ_DOTS, nkD:B14B_NK_DOTS, zkD:B14B_ZK_DOTS, red:['#ef4f3b','#ae0f24'], blue:['#7ab0cf','#2079b6'], green:['#7cc584','#00743a']},
  {name:'BDF', left:1389, top1:474, top2:651.3, n:BDF_N_LIM, z:BDF_Z_LIM, k:BDF_K_LIM, nt:BDF_N_TICKS, zt:BDF_Z_TICKS, kt:BDF_K_TICKS, star:BDF_STAR, nz:BDF_NZ, nk:BDF_NK, zk:BDF_ZK, red:['#eea68e','#d31f2a'], blue:['#7ab0cf','#2079b6'], green:['#3bab62','#00743a']},
  {name:'J0217', left:339, top1:945.7, top2:1123.7, n:J0217_N_LIM, z:J0217_Z_LIM, k:J0217_K_LIM, nt:J0217_N_TICKS, zt:J0217_Z_TICKS, kt:J0217_K_TICKS, star:J0217_STAR, nz:J0217_NZ, nk:J0217_NK, zk:J0217_ZK, nzD:J0217_NZ_DOTS, nkD:J0217_NK_DOTS, zkD:J0217_ZK_DOTS, red:['#eea68e','#d31f2a'], blue:['#a7c5dd','#2079b6'], green:['#3bab62','#00743a']},
  {name:'J0235', left:768, top1:945.7, top2:1123.7, n:J0235_N_LIM, z:J0235_Z_LIM, k:J0235_K_LIM, nt:J0235_N_TICKS, zt:J0235_Z_TICKS, kt:J0235_K_TICKS, star:J0235_STAR, nz:J0235_NZ, nk:J0235_NK, zk:J0235_ZK, nzD:J0235_NZ_DOTS, nkD:J0235_NK_DOTS, zkD:J0235_ZK_DOTS, red:['#eea68e','#d31f2a'], blue:['#7ab0cf','#045fa3'], green:['#7cc584','#00743a']},
  {name:'J1211', left:1217, top1:945.7, top2:1123.7, n:J1211_N_LIM, z:J1211_Z_LIM, k:J1211_K_LIM, nt:J1211_N_TICKS, zt:J1211_Z_TICKS, kt:J1211_K_TICKS, star:J1211_STAR, nz:J1211_NZ, nk:J1211_NK, zk:J1211_ZK, nzD:J1211_NZ_DOTS, nkD:J1211_NK_DOTS, zkD:J1211_ZK_DOTS, red:['#eea68e','#d31f2a'], blue:['#7ab0cf','#2079b6'], green:['#3bab62','#00743a']}
];

const STAR_PATH = 'path://M0 -10 L2.25 -3.09 L9.51 -3.09 L3.63 1.18 L5.88 8.09 L0 3.82 L-5.88 8.09 L-3.63 1.18 L-9.51 -3.09 L-2.25 -3.09 Z';
const FONT = '"DejaVu Sans"';
const PANEL_W = 165.5, PANEL_H = 169, COL2 = 173.3;

var grid = [], xAxis = [], yAxis = [], series = [];

function tickFormat(ticks) {
  var dec = ticks.some(function (t) { return Math.abs(t * 10 - Math.round(t * 10)) > 1e-6; }) ? 2 : 1;
  return function (v) { return v.toFixed(dec).replace('-', '\u2212'); };
}

function longest(ticks) {
  var f = tickFormat(ticks);
  return Math.max.apply(null, ticks.map(function (t) { return f(t).length; }));
}

// one filled-contour panel
function addPanel(g, left, top, xLim, yLim, xTicks, yTicks, polys, holes, dots, fills, showXLabel, showYLabel, xName, yName, xStar, yStar) {
  var idx = grid.length;
  grid.push({ left: left, top: top, width: PANEL_W, height: PANEL_H, show: false });
  var nameStyle = {
    fontFamily: FONT, fontSize: 23, color: '#222', lineHeight: 30,
    rich: {
      sup: { fontFamily: FONT, fontSize: 15, color: '#222', verticalAlign: 'top', lineHeight: 30 },
      sub: { fontFamily: FONT, fontSize: 16, color: '#222', verticalAlign: 'bottom', lineHeight: 30 }
    }
  };
  xAxis.push({
    type: 'value', gridIndex: idx, min: xLim[0], max: xLim[1], scale: true,
    splitLine: { show: false }, axisLine: { show: false },
    axisTick: { show: true, length: 4, lineStyle: { color: '#444', width: 1 }, customValues: xTicks },
    axisLabel: {
      show: showXLabel, customValues: xTicks, rotate: 45, align: 'center', verticalAlign: 'middle',
      margin: 27 + (longest(xTicks) - 3) * 4.2,
      fontFamily: FONT, fontSize: 19, color: '#222', formatter: tickFormat(xTicks)
    },
    name: showXLabel ? xName : '', nameLocation: 'middle', nameGap: 51, nameMoveOverlap: false, nameTextStyle: nameStyle
  });
  yAxis.push({
    type: 'value', gridIndex: idx, min: yLim[0], max: yLim[1], scale: true,
    splitLine: { show: false }, axisLine: { show: false },
    axisTick: { show: true, length: 4, lineStyle: { color: '#444', width: 1 }, customValues: yTicks },
    axisLabel: {
      show: showYLabel, customValues: yTicks, rotate: 45, verticalAlign: 'middle', margin: 8,
      fontFamily: FONT, fontSize: 19, color: '#222', formatter: tickFormat(yTicks)
    },
    name: showYLabel ? yName : '', nameLocation: 'middle', nameGap: 47, nameMoveOverlap: false, nameTextStyle: nameStyle
  });

  function polySeries(list, colorOf) {
    series.push({
      type: 'custom', xAxisIndex: idx, yAxisIndex: idx, silent: true, z: 2,
      data: list.map(function (p, i) { return i; }),
      renderItem: function (params, api) {
        var cs = params.coordSys, i = params.dataIndex;
        var pts = list[i].map(function (p) {
          var c = api.coord(p);
          // points sitting on the frame get pushed out so the smoothing leaves no corner gaps
          if (c[0] <= cs.x + 1.5) c[0] = cs.x - 8;
          if (c[0] >= cs.x + cs.width - 1.5) c[0] = cs.x + cs.width + 8;
          if (c[1] <= cs.y + 1.5) c[1] = cs.y - 8;
          if (c[1] >= cs.y + cs.height - 1.5) c[1] = cs.y + cs.height + 8;
          return c;
        });
        return {
          type: 'group',
          clipPath: { type: 'rect', shape: { x: cs.x, y: cs.y, width: cs.width, height: cs.height } },
          children: [{
            type: 'polygon',
            shape: { points: pts, smooth: 0.25 },
            style: { fill: colorOf(i), stroke: '#808080', lineWidth: 1.7 }
          }]
        };
      }
    });
  }
  polySeries(polys, function (i) { return fills[Math.min(i, 2)]; });
  if (holes) polySeries(holes, function () { return '#fff'; });

  if (dots) {
    series.push({
      type: 'scatter', xAxisIndex: idx, yAxisIndex: idx, data: dots, symbolSize: 2.5, silent: true, z: 3,
      itemStyle: { color: 'rgba(110,110,110,0.5)' }
    });
  }

  var line = { color: '#808080', width: 1.6 };
  series.push({
    type: 'line', xAxisIndex: idx, yAxisIndex: idx, silent: true, z: 3, symbol: 'none', lineStyle: line,
    data: [[xStar, yLim[0]], [xStar, yLim[1]]]
  });
  series.push({
    type: 'line', xAxisIndex: idx, yAxisIndex: idx, silent: true, z: 3, symbol: 'none', lineStyle: line,
    data: [[xLim[0], yStar], [xLim[1], yStar]]
  });
  // frame on top of the fills
  series.push({
    type: 'custom', xAxisIndex: idx, yAxisIndex: idx, silent: true, z: 4, data: [0],
    renderItem: function (params) {
      var cs = params.coordSys;
      return { type: 'rect', shape: { x: cs.x, y: cs.y, width: cs.width, height: cs.height }, style: { fill: 'none', stroke: '#757575', lineWidth: 1.6 } };
    }
  });
  series.push({
    type: 'scatter', xAxisIndex: idx, yAxisIndex: idx, silent: true, z: 5,
    data: [[xStar, yStar]], symbol: STAR_PATH, symbolSize: 19, symbolOffset: [0, -1],
    itemStyle: { color: '#ffff00', borderColor: '#111', borderWidth: 1 },
    label: {
      show: true, position: 'right', distance: 0, offset: [-3, -11], formatter: g.name,
      fontFamily: FONT, fontSize: 16, color: '#111'
    }
  });
}

groups.forEach(function (g) {
  var colR = [RED_LIGHT, g.red[0], g.red[1]], colB = [BLUE_LIGHT, g.blue[0], g.blue[1]], colG = [GREEN_LIGHT, g.green[0], g.green[1]];
  var nName = 'log(n/cm{sup|\u22123})', zName = 'log(Z/Z{sub|\u2299})', kName = 'log(\u03ba{sub|s})';
  addPanel(g, g.left, g.top1, g.n, g.z, g.nt, g.zt, g.nz, g.nzH, g.nzD, colR, false, true, '', zName, g.star[0], g.star[1]);
  addPanel(g, g.left, g.top2, g.n, g.k, g.nt, g.kt, g.nk, g.nkH, g.nkD, colB, true, true, nName, kName, g.star[0], g.star[2]);
  addPanel(g, g.left + COL2, g.top2, g.z, g.k, g.zt, g.kt, g.zk, g.zkH, g.zkD, colG, true, false, zName, '', g.star[1], g.star[2]);
});

var myChart = echarts.init(document.getElementById('main'));
myChart.setOption({
  animation: false,
  backgroundColor: '#fff',
  grid: grid,
  xAxis: xAxis,
  yAxis: yAxis,
  series: series
});
</script>
</body>
</html>
